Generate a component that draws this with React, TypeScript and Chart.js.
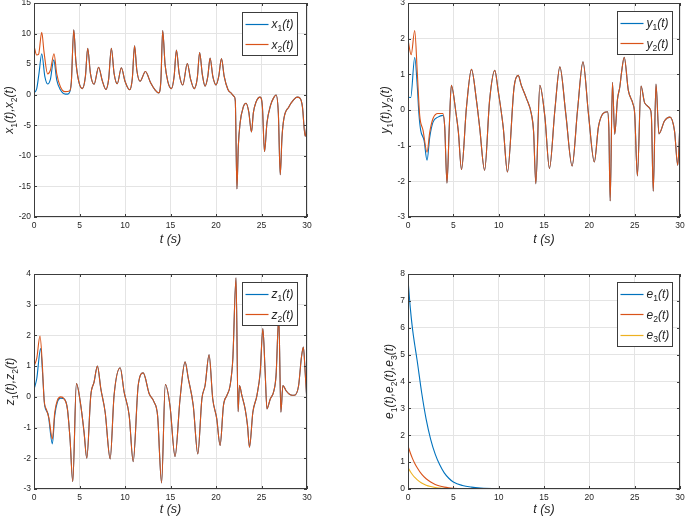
import React, { useEffect, useRef } from "react";
import { Chart, registerables } from "chart.js";

Chart.register(...registerables);

const FONT = '"Liberation Sans", Arial, Helvetica, sans-serif';
const C_BLUE = "#0072BD";
const C_ORANGE = "#D95319";
const C_YELLOW = "#EDB120";
const TEXT_COLOR = "#262626";
const BOX_COLOR = "#3c3c3c";
const GRID_COLOR = "#e4e4e4";

// ---------- shared x axis ----------
const X_MIN = 0;
const X_MAX = 30;
const X_STEP = 5;

// ---------- panel (a): x1, x2 ----------
const x2Time = [0, 0.3, 0.5, 0.85, 1.1, 1.5, 1.8, 2.2, 2.5, 2.9, 3.4, 3.9, 4.1, 4.37, 4.6, 4.9, 5.3, 5.65, 5.9, 6.2, 6.6, 7.1, 7.5, 7.9, 8.2, 8.5, 8.8, 9.15, 9.6, 10.0, 10.5, 10.8, 11.05, 11.3, 11.65, 12.25, 12.8, 13.3, 13.7, 13.95, 14.14, 14.4, 14.7, 15.1, 15.4, 15.65, 15.95, 16.35, 16.85, 17.2, 17.6, 17.95, 18.2, 18.5, 18.8, 19.1, 19.35, 19.65, 20.0, 20.3, 20.6, 20.9, 21.3, 21.7, 22.0, 22.12, 22.3, 22.45, 22.65, 23.0, 23.3, 23.6, 23.9, 24.1, 24.4, 24.85, 25.1, 25.33, 25.6, 26.0, 26.3, 26.6, 26.85, 27.06, 27.25, 27.45, 28.0, 28.5, 28.9, 29.25, 29.5, 29.8, 30.0];
const x2Vals = [8.0, 6.5, 6.6, 10.2, 7.0, 3.4, 4.0, 6.7, 3.4, 1.3, 0.5, 0.6, 2.0, 10.6, 5.5, 2.3, 1.0, 3.0, 7.6, 3.5, 1.7, 4.5, 2.3, 0.85, 2.5, 7.6, 3.5, 1.8, 4.4, 2.2, 0.8, 2.6, 8.0, 4.0, 2.2, 3.8, 2.0, 0.8, 0.3, 2.5, 10.5, 5.0, 2.2, 1.0, 3.0, 7.3, 3.5, 1.6, 5.1, 2.6, 1.0, 2.8, 6.9, 3.3, 1.4, 3.0, 6.0, 3.0, 1.6, 3.0, 5.9, 3.0, 0.9, 0.2, -0.3, -1.0, -15.4, -8.5, -4.6, -2.0, -1.4, -2.8, -6.1, -3.0, -1.2, -0.4, -2.0, -9.3, -4.6, -1.7, -0.6, -0.05, -3.0, -13.1, -7.0, -4.0, -2.0, -0.9, -0.4, -0.6, -2.0, -6.8, -4.9];
const x1EarlyTime = [0, 0.3, 0.55, 0.85, 1.2, 1.5, 1.8, 2.17, 2.5, 2.9, 3.45, 3.7, 3.94];
const x1EarlyVals = [0.3, 1.0, 3.5, 6.7, 2.9, 1.75, 2.5, 5.7, 2.4, 0.8, 0.1, 0.1, 0.5];

// ---------- panel (b): y1, y2 ----------
const y2Time = [0, 0.35, 0.74, 1.03, 1.29, 1.66, 2.1, 2.4, 2.76, 3.3, 3.86, 4.05, 4.3, 4.55, 4.78, 5.3, 5.55, 5.9, 6.45, 7.0, 7.55, 7.9, 8.45, 9.0, 9.57, 9.94, 10.5, 10.97, 11.7, 12.15, 12.5, 13.07, 13.6, 13.85, 14.1, 14.54, 15.1, 15.6, 16.2, 16.75, 17.4, 18.1, 18.7, 19.3, 19.9, 20.55, 21.0, 21.5, 22.0, 22.15, 22.3, 22.55, 22.8, 23.1, 23.37, 23.55, 23.85, 24.3, 24.8, 25.0, 25.3, 25.7, 26.1, 26.7, 26.85, 27.05, 27.35, 27.68, 28.3, 28.9, 29.4, 29.75, 30.0];
const y2Vals = [1.97, 1.55, 2.23, 1.02, -0.15, -0.57, -1.18, -0.62, -0.24, -0.1, -0.1, -0.48, -2.05, -0.5, 0.69, -0.1, -0.6, -1.67, 0.08, 1.14, 0.27, -0.48, -1.69, 0.27, 1.11, 0.55, -0.48, -1.74, 0.64, 0.97, 0.69, 0.32, -0.1, -0.6, -2.07, 0.69, -0.2, -1.64, 0.0, 1.21, -0.1, -1.57, 0.0, 1.35, -0.1, -1.46, -0.48, -0.1, -0.05, -0.5, -2.55, 0.78, -0.68, 0.29, 0.66, 1.05, 1.48, 0.55, 0.18, -0.1, -1.85, 0.67, 0.2, 0.03, -0.2, -2.28, 0.73, -0.67, -0.3, -0.2, -0.6, -1.55, -0.35];
const y1EarlyTime = [0, 0.3, 0.74, 1.03, 1.2, 1.4, 1.77, 2.1, 2.4, 2.76, 3.3, 3.86];
const y1EarlyVals = [0.36, 0.35, 1.47, 0.64, -0.1, -0.57, -0.85, -1.41, -0.76, -0.34, -0.2, -0.15];

// ---------- panel (c): z1, z2 ----------
const z2Time = [0, 0.3, 0.66, 0.92, 1.1, 1.4, 1.65, 2.02, 2.28, 2.57, 2.94, 3.3, 3.67, 3.96, 4.26, 4.66, 5.14, 5.5, 5.8, 6.24, 6.6, 6.97, 7.34, 7.82, 8.37, 8.8, 9.47, 9.9, 10.46, 10.9, 11.45, 12.0, 12.66, 13.2, 13.58, 14.02, 14.43, 14.94, 15.5, 16.05, 16.6, 16.96, 17.5, 18.0, 18.45, 18.8, 19.24, 19.64, 20.08, 20.45, 20.82, 21.2, 21.55, 21.85, 22.2, 22.43, 22.58, 22.84, 23.2, 23.46, 23.68, 24.05, 24.5, 24.86, 25.15, 25.4, 25.6, 25.97, 26.33, 26.6, 26.9, 27.13, 27.35, 27.7, 28.16, 28.6, 29.08, 29.37, 29.6, 29.8, 30.0];
const z2Vals = [1.0, 1.25, 1.98, 1.03, -0.06, -0.44, -0.71, -1.37, -0.5, -0.11, 0.0, -0.06, -0.39, -1.37, -2.76, 0.43, -0.28, -1.15, -2.0, 0.05, 0.48, 1.0, 0.27, -0.5, -2.02, 0.05, 0.95, 0.16, -0.61, -2.11, 0.37, 0.78, 0.1, -0.17, -0.61, -2.8, 0.4, -0.28, -1.94, -0.06, 1.14, 0.59, -0.28, -1.86, -0.06, 0.37, 1.37, -0.06, -0.71, -1.58, -0.28, 0.05, 0.37, 1.24, 3.88, -0.48, 0.37, 0.05, -0.39, -0.93, -1.64, -0.5, 0.05, 0.81, 2.22, 0.81, -0.39, -0.06, 0.16, 0.7, 2.6, -0.5, 0.37, 0.2, 0.07, 0.05, 0.37, 1.24, 1.62, 0.8, -0.2];
const z1EarlyTime = [0, 0.3, 0.73, 1.0, 1.17, 1.54, 2.02, 2.28, 2.57, 2.94];
const z1EarlyVals = [0.24, 0.59, 1.57, 0.48, -0.28, -0.55, -1.53, -0.61, -0.17, -0.04];

// ---------- panel (d): errors ----------
const eTime = [0, 0.25, 0.5, 0.75, 1, 1.5, 2, 2.5, 3, 3.5, 4, 4.5, 5, 6, 7, 8, 10, 12, 15, 20, 25, 30];
const e1Vals = [7.8, 6.75, 5.95, 5.35, 4.8, 3.6, 2.6, 1.85, 1.3, 0.9, 0.6, 0.4, 0.26, 0.13, 0.07, 0.04, 0.015, 0.006, 0.002, 0, 0, 0];
const e2Vals = [1.6, 1.35, 1.13, 0.95, 0.8, 0.55, 0.38, 0.26, 0.17, 0.11, 0.07, 0.045, 0.03, 0.012, 0.005, 0.002, 0, 0, 0, 0, 0, 0];
const e3Vals = [0.8, 0.65, 0.53, 0.43, 0.35, 0.22, 0.14, 0.09, 0.055, 0.035, 0.02, 0.013, 0.008, 0.003, 0.001, 0, 0, 0, 0, 0, 0, 0];

// ---------- helpers ----------
type Pt = { x: number; y: number };
function pts(t: number[], v: number[]): Pt[] {
  return t.map((ti, i) => ({ x: ti, y: v[i] }));
}
function withTail(et: number[], ev: number[], ft: number[], fv: number[]): Pt[] {
  const last = et[et.length - 1];
  const out = pts(et, ev);
  ft.forEach((ti, i) => {
    if (ti > last) out.push({ x: ti, y: fv[i] });
  });
  return out;
}

type Series = { label: string; color: string; data: Pt[]; order: number };
type Panel = {
  left: number; top: number; width: number; height: number;
  yAxisW: number; padTop: number; padRight: number; xAxisH: number; xTitlePadB: number;
  yTitleX: number; yTitle: string; yMin: number; yMax: number; yStep: number;
  legendRight: number; legendTop: number;
  series: Series[];
};

const panels: Panel[] = [
  {
    left: 0, top: 0, width: 342, height: 255,
    yAxisW: 34, padTop: 3, padRight: 35, xAxisH: 38, xTitlePadB: 8,
    yTitleX: 9, yTitle: "x_1(t),x_2(t)", yMin: -20, yMax: 15, yStep: 5,
    legendRight: 10, legendTop: 9,
    series: [
      { label: "x_1(t)", color: C_BLUE, data: withTail(x1EarlyTime, x1EarlyVals, x2Time, x2Vals), order: 1 },
      { label: "x_2(t)", color: C_ORANGE, data: pts(x2Time, x2Vals), order: 0 },
    ],
  },
  {
    left: 342, top: 0, width: 343, height: 255,
    yAxisW: 66, padTop: 3, padRight: 5, xAxisH: 38, xTitlePadB: 8,
    yTitleX: 43, yTitle: "y_1(t),y_2(t)", yMin: -3, yMax: 3, yStep: 1,
    legendRight: 8, legendTop: 8,
    series: [
      { label: "y_1(t)", color: C_BLUE, data: withTail(y1EarlyTime, y1EarlyVals, y2Time, y2Vals), order: 1 },
      { label: "y_2(t)", color: C_ORANGE, data: pts(y2Time, y2Vals), order: 0 },
    ],
  },
  {
    left: 0, top: 258, width: 342, height: 260,
    yAxisW: 34, padTop: 16, padRight: 35, xAxisH: 29, xTitlePadB: 1,
    yTitleX: 10, yTitle: "z_1(t),z_2(t)", yMin: -3, yMax: 4, yStep: 1,
    legendRight: 10, legendTop: 8,
    series: [
      { label: "z_1(t)", color: C_BLUE, data: withTail(z1EarlyTime, z1EarlyVals, z2Time, z2Vals), order: 1 },
      { label: "z_2(t)", color: C_ORANGE, data: pts(z2Time, z2Vals), order: 0 },
    ],
  },
  {
    left: 342, top: 258, width: 343, height: 260,
    yAxisW: 66, padTop: 16, padRight: 5, xAxisH: 29, xTitlePadB: 1,
    yTitleX: 47, yTitle: "e_1(t),e_2(t),e_3(t)", yMin: 0, yMax: 8, yStep: 1,
    legendRight: 8, legendTop: 8,
    series: [
      { label: "e_1(t)", color: C_BLUE, data: pts(eTime, e1Vals), order: 2 },
      { label: "e_2(t)", color: C_ORANGE, data: pts(eTime, e2Vals), order: 1 },
      { label: "e_3(t)", color: C_YELLOW, data: pts(eTime, e3Vals), order: 0 },
    ],
  },
];

function parseRich(label: string) {
  const out: { t: string; sub: boolean }[] = [];
  const re = /_(\d)/g;
  let last = 0;
  let m: RegExpExecArray | null;
  while ((m = re.exec(label))) {
    if (m.index > last) out.push({ t: label.slice(last, m.index), sub: false });
    out.push({ t: m[1], sub: true });
    last = re.lastIndex;
  }
  if (last < label.length) out.push({ t: label.slice(last), sub: false });
  return out;
}

function drawRich(ctx: CanvasRenderingContext2D, label: string, x: number, y: number, size: number, align: "left" | "center", rotate: boolean) {
  const parts = parseRich(label);
  const mainFont = `italic ${size}px ${FONT}`;
  const subFont = `${(size * 0.72).toFixed(1)}px ${FONT}`;
  let total = 0;
  const widths = parts.map((p) => {
    ctx.font = p.sub ? subFont : mainFont;
    const w = ctx.measureText(p.t).width;
    total += w;
    return w;
  });
  ctx.save();
  ctx.translate(x, y);
  if (rotate) ctx.rotate(-Math.PI / 2);
  ctx.fillStyle = TEXT_COLOR;
  ctx.textAlign = "left";
  ctx.textBaseline = "alphabetic";
  let cx = align === "center" ? -total / 2 : 0;
  const base = size * 0.36;
  parts.forEach((p, i) => {
    ctx.font = p.sub ? subFont : mainFont;
    ctx.fillText(p.t, cx, p.sub ? base + size * 0.28 : base);
    cx += widths[i];
  });
  ctx.restore();
}

function PanelChart({ p }: { p: Panel }) {
  const ref = useRef<HTMLCanvasElement | null>(null);
  useEffect(() => {
    if (!ref.current) return;
    const deco = {
      id: "deco",
      afterDraw(chart: any) {
        const ctx: CanvasRenderingContext2D = chart.ctx;
        const a = chart.chartArea;
        const xs = chart.scales.x;
        const ys = chart.scales.y;
        ctx.save();
        // inward tick marks
        ctx.strokeStyle = BOX_COLOR;
        ctx.lineWidth = 1;
        ctx.beginPath();
        xs.ticks.forEach((t: any) => {
          const px = Math.round(xs.getPixelForValue(t.value)) + 0.5;
          ctx.moveTo(px, a.bottom);
          ctx.lineTo(px, a.bottom - 3);
          ctx.moveTo(px, a.top);
          ctx.lineTo(px, a.top + 3);
        });
        ys.ticks.forEach((t: any) => {
          const py = Math.round(ys.getPixelForValue(t.value)) + 0.5;
          ctx.moveTo(a.left, py);
          ctx.lineTo(a.left + 3, py);
          ctx.moveTo(a.right, py);
          ctx.lineTo(a.right - 3, py);
        });
        ctx.stroke();
        // axes box
        ctx.strokeRect(Math.round(a.left) + 0.5, Math.round(a.top) + 0.5, Math.round(a.right - a.left) - 1, Math.round(a.bottom - a.top) - 1);
        // y title
        drawRich(ctx, p.yTitle, p.yTitleX, (a.top + a.bottom) / 2, 12, "center", true);
        // legend
        const rows = p.series.length;
        const bw = 55;
        const rowH = 20.5;
        const bh = Math.round(rows * rowH + 2);
        const bx = Math.round(a.right - p.legendRight - bw) + 0.5;
        const by = Math.round(a.top + p.legendTop) + 0.5;
        ctx.fillStyle = "#ffffff";
        ctx.fillRect(bx, by, bw, bh);
        ctx.strokeStyle = BOX_COLOR;
        ctx.lineWidth = 1;
        ctx.strokeRect(bx, by, bw, bh);
        p.series.forEach((s, i) => {
          const cy = by + 1 + rowH * (i + 0.5);
          ctx.strokeStyle = s.color;
          ctx.lineWidth = 1.2;
          ctx.beginPath();
          ctx.moveTo(bx + 3, Math.round(cy) + 0.5);
          ctx.lineTo(bx + 26, Math.round(cy) + 0.5);
          ctx.stroke();
          drawRich(ctx, s.label, bx + 29, cy, 12, "left", false);
        });
        ctx.restore();
      },
    };
    const chart = new Chart(ref.current, {
      type: "line",
      data: {
        datasets: p.series.map((s) => ({
          label: s.label,
          data: s.data,
          borderColor: s.color,
          backgroundColor: s.color,
          borderWidth: 1.1,
          pointRadius: 0,
          fill: false,
          cubicInterpolationMode: "monotone",
          order: s.order,
        })),
      },
      options: {
        responsive: false,
        animation: false,
        devicePixelRatio: 1,
        events: [],
        layout: { padding: { top: p.padTop, right: p.padRight, left: 0, bottom: 0 } },
        plugins: { legend: { display: false }, tooltip: { enabled: false } },
        scales: {
          x: {
            type: "linear",
            min: X_MIN,
            max: X_MAX,
            ticks: { stepSize: X_STEP, color: TEXT_COLOR, font: { family: FONT, size: 8.5 }, padding: 4, maxRotation: 0, autoSkip: false },
            grid: { color: GRID_COLOR, drawTicks: false, lineWidth: 1 },
            border: { display: false },
            title: { display: true, text: "t (s)", color: TEXT_COLOR, font: { family: FONT, size: 12.5, style: "italic" }, padding: { top: 0, bottom: p.xTitlePadB } },
            afterFit: (s: any) => {
              s.height = p.xAxisH;
              s.paddingLeft = 0;
              s.paddingRight = 0;
            },
          },
          y: {
            type: "linear",
            min: p.yMin,
            max: p.yMax,
            ticks: { stepSize: p.yStep, color: TEXT_COLOR, font: { family: FONT, size: 8.5 }, padding: 3, autoSkip: false },
            grid: { color: GRID_COLOR, drawTicks: false, lineWidth: 1 },
            border: { display: false },
            afterFit: (s: any) => {
              s.width = p.yAxisW;
              s.paddingTop = 0;
              s.paddingBottom = 0;
            },
          },
        },
      } as any,
      plugins: [deco],
    });
    return () => chart.destroy();
  }, [p]);
  return (
    <canvas
      ref={ref}
      width={p.width}
      height={p.height}
      style={{ position: "absolute", left: p.left, top: p.top, width: p.width, height: p.height }}
    />
  );
}

export default function App() {
  return (
    <div style={{ position: "absolute", left: 0, top: 0, width: 685, height: 518, background: "#ffffff", overflow: "hidden" }}>
      {panels.map((p, i) => (
        <PanelChart key={i} p={p} />
      ))}
    </div>
  );
}
